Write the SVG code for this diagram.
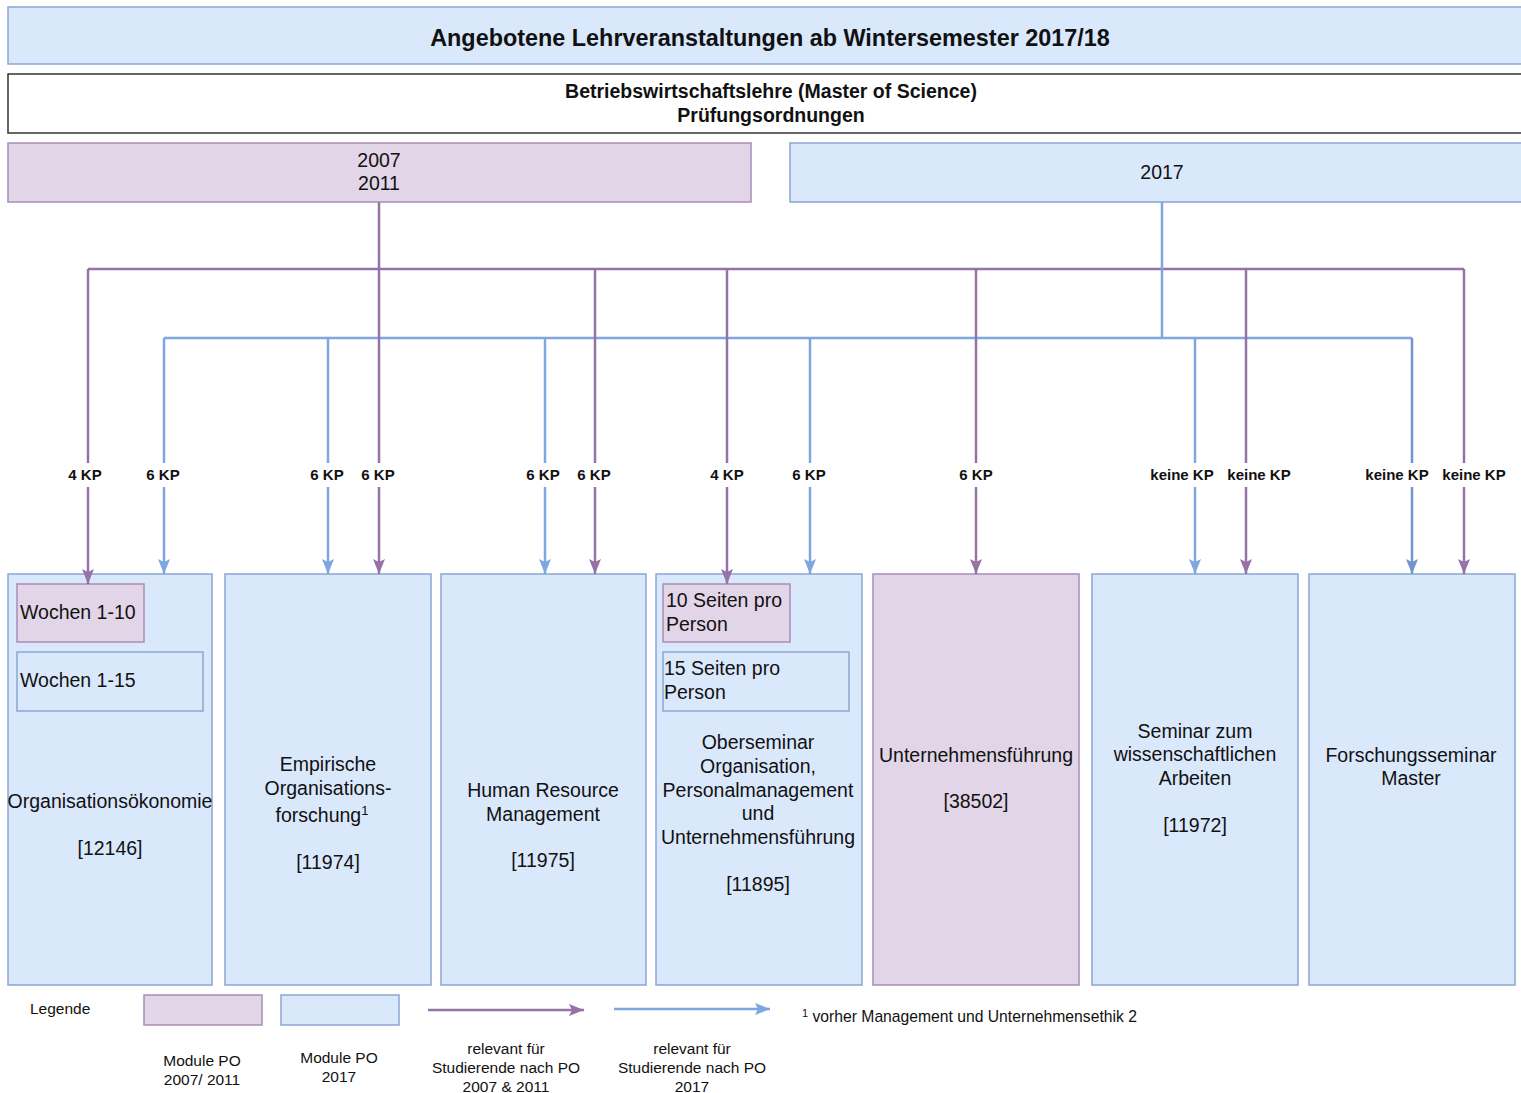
<svg xmlns="http://www.w3.org/2000/svg" width="1521" height="1093" viewBox="0 0 1521 1093">
<style>
text{font-family:"Liberation Sans",Arial,Helvetica,sans-serif;fill:#111;}
.blue{fill:#dae8fc;stroke:#8aa6d2;stroke-width:1.5;}
.purp{fill:#e1d5e7;stroke:#a88cba;stroke-width:1.5;}
.t{font-size:19.5px;text-anchor:middle;}
.tl{font-size:19.5px;}
.kp{font-size:15px;font-weight:bold;text-anchor:middle;}
.lg{font-size:15.5px;text-anchor:middle;}
.pl{stroke:#9673a6;stroke-width:2.5;fill:none;}
.bl{stroke:#7ea6e0;stroke-width:2.5;fill:none;}
.lbg{fill:#fff;}
</style>
<defs>
<marker id="ap" markerUnits="userSpaceOnUse" markerWidth="16" markerHeight="14" refX="15" refY="6" orient="auto"><path d="M0,0 L15,6 L0,12 L3,6 Z" fill="#9673a6"/></marker>
<marker id="ab" markerUnits="userSpaceOnUse" markerWidth="16" markerHeight="14" refX="15" refY="6" orient="auto"><path d="M0,0 L15,6 L0,12 L3,6 Z" fill="#7ea6e0"/></marker>
<marker id="ab2" markerUnits="userSpaceOnUse" markerWidth="16" markerHeight="14" refX="15" refY="6" orient="auto"><path d="M0,0 L15,6 L0,12 L3,6 Z" fill="#6f95cc"/></marker>
</defs>
<rect width="1521" height="1093" fill="#fff"/>

<g id="title">
<rect x="8" y="7" width="1520" height="57" class="blue"/>
<text x="770" y="46" style="font-size:23.4px;font-weight:bold;text-anchor:middle">Angebotene Lehrveranstaltungen ab Wintersemester 2017/18</text>
</g>
<g id="subtitle">
<rect x="8" y="74" width="1520" height="59" fill="#fff" stroke="#333" stroke-width="1.5"/>
<text x="771" y="98" style="font-size:19.5px;font-weight:bold;text-anchor:middle">Betriebswirtschaftslehre (Master of Science)</text>
<text x="771" y="122" style="font-size:19.5px;font-weight:bold;text-anchor:middle">Prüfungsordnungen</text>
</g>
<g id="po2007">
<rect x="8" y="143" width="743" height="59" class="purp"/>
<text x="379" y="167" class="t">2007</text>
<text x="379" y="190" class="t">2011</text>
</g>
<g id="po2017">
<rect x="790" y="143" width="740" height="59" class="blue"/>
<text x="1162" y="179" class="t">2017</text>
</g>

<g id="m12146">
<rect x="8" y="574" width="204" height="411" class="blue"/>
<rect x="17" y="584" width="127" height="58" class="purp"/>
<text x="20" y="619" class="tl">Wochen 1-10</text>
<rect x="17" y="652" width="186" height="59" class="blue"/>
<text x="20" y="687" class="tl">Wochen 1-15</text>
<text x="110" y="808" class="t">Organisationsökonomie</text>
<text x="110" y="855" class="t">[12146]</text>
</g>
<g id="m11974">
<rect x="225" y="574" width="206" height="411" class="blue"/>
<text x="328" y="771" class="t">Empirische</text>
<text x="328" y="795" class="t">Organisations-</text>
<text x="322" y="822" class="t">forschung<tspan dy="-7" style="font-size:13px">1</tspan></text>
<text x="328" y="869" class="t">[11974]</text>
</g>
<g id="m11975">
<rect x="441" y="574" width="205" height="411" class="blue"/>
<text x="543" y="797" class="t">Human Resource</text>
<text x="543" y="821" class="t">Management</text>
<text x="543" y="867" class="t">[11975]</text>
</g>
<g id="m11895">
<rect x="656" y="574" width="206" height="411" class="blue"/>
<rect x="663" y="584" width="127" height="58" class="purp"/>
<text x="666" y="607" class="tl">10 Seiten pro</text>
<text x="666" y="631" class="tl">Person</text>
<rect x="663" y="652" width="186" height="59" class="blue"/>
<text x="664" y="675" class="tl">15 Seiten pro</text>
<text x="664" y="699" class="tl">Person</text>
<text x="758" y="749" class="t">Oberseminar</text>
<text x="758" y="773" class="t">Organisation,</text>
<text x="758" y="797" class="t">Personalmanagement</text>
<text x="758" y="820" class="t">und</text>
<text x="758" y="844" class="t">Unternehmensführung</text>
<text x="758" y="891" class="t">[11895]</text>
</g>
<g id="m38502">
<rect x="873" y="574" width="206" height="411" class="purp"/>
<text x="976" y="762" class="t">Unternehmensführung</text>
<text x="976" y="808" class="t">[38502]</text>
</g>
<g id="m11972">
<rect x="1092" y="574" width="206" height="411" class="blue"/>
<text x="1195" y="738" class="t">Seminar zum</text>
<text x="1195" y="761" class="t">wissenschaftlichen</text>
<text x="1195" y="785" class="t">Arbeiten</text>
<text x="1195" y="832" class="t">[11972]</text>
</g>
<g id="forschungsseminar">
<rect x="1309" y="574" width="206" height="411" class="blue"/>
<text x="1411" y="762" class="t">Forschungsseminar</text>
<text x="1411" y="785" class="t">Master</text>
</g>

<g id="connectors">
<path class="pl" d="M379,202 V269 M88,269 H1464"/>
<path class="bl" d="M1162,202 V338 M164,338 H1412"/>
<path class="pl" marker-end="url(#ap)" d="M88,269 V584"/>
<path class="pl" marker-end="url(#ap)" d="M379,269 V574"/>
<path class="pl" marker-end="url(#ap)" d="M595,269 V574"/>
<path class="pl" marker-end="url(#ap)" d="M727,269 V584"/>
<path class="pl" marker-end="url(#ap)" d="M976,269 V574"/>
<path class="pl" marker-end="url(#ap)" d="M1246,269 V574"/>
<path class="pl" marker-end="url(#ap)" d="M1464,269 V574"/>
<path class="bl" marker-end="url(#ab)" d="M164,338 V574"/>
<path class="bl" marker-end="url(#ab)" d="M328,338 V574"/>
<path class="bl" marker-end="url(#ab)" d="M545,338 V574"/>
<path class="bl" marker-end="url(#ab)" d="M810,338 V574"/>
<path class="bl" marker-end="url(#ab)" d="M1195,338 V574"/>
<path class="bl" marker-end="url(#ab2)" d="M1412,338 V574" style="stroke:#6f95cc"/>
<g>
<rect class="lbg" x="62" y="463" width="46" height="24"/>
<rect class="lbg" x="140" y="463" width="46" height="24"/>
<rect class="lbg" x="304" y="463" width="46" height="24"/>
<rect class="lbg" x="355" y="463" width="46" height="24"/>
<rect class="lbg" x="520" y="463" width="46" height="24"/>
<rect class="lbg" x="571" y="463" width="46" height="24"/>
<rect class="lbg" x="704" y="463" width="46" height="24"/>
<rect class="lbg" x="786" y="463" width="46" height="24"/>
<rect class="lbg" x="953" y="463" width="46" height="24"/>
<rect class="lbg" x="1145" y="463" width="74" height="24"/>
<rect class="lbg" x="1222" y="463" width="74" height="24"/>
<rect class="lbg" x="1360" y="463" width="74" height="24"/>
<rect class="lbg" x="1437" y="463" width="74" height="24"/>
</g>
<text x="85" y="480" class="kp">4 KP</text>
<text x="163" y="480" class="kp">6 KP</text>
<text x="327" y="480" class="kp">6 KP</text>
<text x="378" y="480" class="kp">6 KP</text>
<text x="543" y="480" class="kp">6 KP</text>
<text x="594" y="480" class="kp">6 KP</text>
<text x="727" y="480" class="kp">4 KP</text>
<text x="809" y="480" class="kp">6 KP</text>
<text x="976" y="480" class="kp">6 KP</text>
<text x="1182" y="480" class="kp">keine KP</text>
<text x="1259" y="480" class="kp">keine KP</text>
<text x="1397" y="480" class="kp">keine KP</text>
<text x="1474" y="480" class="kp">keine KP</text>
</g>

<g id="legend">
<text x="30" y="1014" style="font-size:15.5px">Legende</text>
<rect x="144" y="995" width="118" height="30" class="purp"/>
<rect x="281" y="995" width="118" height="30" class="blue"/>
<path class="pl" marker-end="url(#ap)" d="M428,1010 H584"/>
<path class="bl" marker-end="url(#ab)" d="M614,1009 H770"/>
<text x="202" y="1066" class="lg">Module PO</text>
<text x="202" y="1085" class="lg">2007/ 2011</text>
<text x="339" y="1063" class="lg">Module PO</text>
<text x="339" y="1082" class="lg">2017</text>
<text x="506" y="1054" class="lg">relevant für</text>
<text x="506" y="1073" class="lg">Studierende nach PO</text>
<text x="506" y="1092" class="lg">2007 &amp; 2011</text>
<text x="692" y="1054" class="lg">relevant für</text>
<text x="692" y="1073" class="lg">Studierende nach PO</text>
<text x="692" y="1092" class="lg">2017</text>
<text x="802" y="1022" style="font-size:15.7px"><tspan dy="-5" style="font-size:11px">1</tspan><tspan dy="5"> vorher Management und Unternehmensethik 2</tspan></text>
</g>
</svg>
